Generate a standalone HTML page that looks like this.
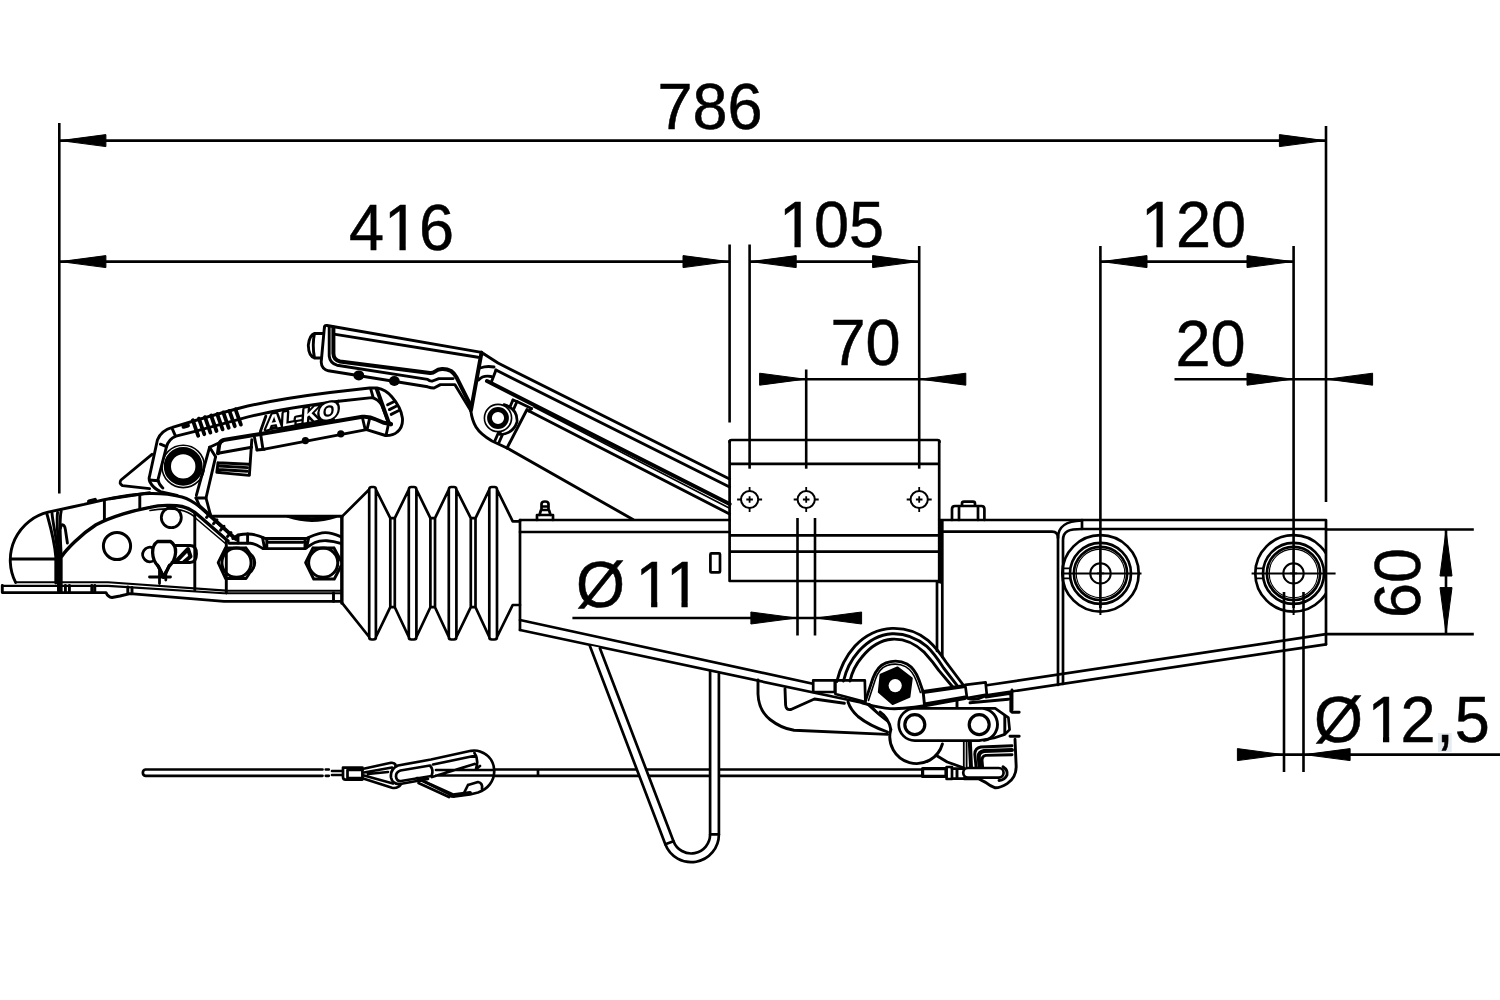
<!DOCTYPE html>
<html><head><meta charset="utf-8"><title>Drawing</title>
<style>
html,body{margin:0;padding:0;background:#fff;}
body{width:1500px;height:1000px;overflow:hidden;}
svg{display:block;}
text{font-family:"Liberation Sans",sans-serif;font-size:63px;fill:#000;stroke:#000;stroke-width:0.5px;}
.l{fill:none;stroke:#000;stroke-width:2.7;stroke-linecap:round;stroke-linejoin:round;}
.t{fill:none;stroke:#000;stroke-width:1.6;stroke-linecap:round;stroke-linejoin:round;}
.h{fill:none;stroke:#000;stroke-width:4;stroke-linecap:round;stroke-linejoin:round;}
.w{fill:#fff;stroke:#000;stroke-width:2.7;stroke-linecap:round;stroke-linejoin:round;}
.d{fill:none;stroke:#000;stroke-width:2.6;stroke-linecap:butt;}
#handle1 .l,#handle2 .l,#coupling .l,#brake .l{stroke-width:2.9;}
</style></head><body>
<svg width="1500" height="1000" viewBox="0 0 1500 1000">
<rect width="1500" height="1000" fill="#fff"/>
<!-- 10_dims.py -->
<path class="d" d="M59.3 123V493.5"/>
<path class="d" d="M1326 126V502"/>
<path class="d" d="M729.6 244.5V422.5"/>
<path class="d" d="M749.6 244.5V468.7"/>
<path class="d" d="M919.2 246V468.7"/>
<path class="d" d="M806.2 369.5V468.7"/>
<path class="d" d="M1100.4 246V608"/>
<path class="d" d="M1293.6 246V608"/>
<path class="d" d="M59.3 140.6H1326"/>
<path d="M60.5 140.6 L105.9 146.6 L105.9 134.6 Z" fill="#000" stroke="#000" stroke-width="1" stroke-linejoin="round"/>
<path d="M1324.8 140.6 L1279.4 134.6 L1279.4 146.6 Z" fill="#000" stroke="#000" stroke-width="1" stroke-linejoin="round"/>
<path class="d" d="M59.3 261.6H729.6"/>
<path d="M60.5 261.6 L105.9 267.6 L105.9 255.6 Z" fill="#000" stroke="#000" stroke-width="1" stroke-linejoin="round"/>
<path d="M728.4 261.6 L683.0 255.6 L683.0 267.6 Z" fill="#000" stroke="#000" stroke-width="1" stroke-linejoin="round"/>
<path class="d" d="M749.6 261.6H919.2"/>
<path d="M750.8 261.6 L796.2 267.6 L796.2 255.6 Z" fill="#000" stroke="#000" stroke-width="1" stroke-linejoin="round"/>
<path d="M918.0 261.6 L872.6 255.6 L872.6 267.6 Z" fill="#000" stroke="#000" stroke-width="1" stroke-linejoin="round"/>
<path class="d" d="M1100.4 261.6H1293.6"/>
<path d="M1101.6 261.6 L1147.0 267.6 L1147.0 255.6 Z" fill="#000" stroke="#000" stroke-width="1" stroke-linejoin="round"/>
<path d="M1292.4 261.6 L1247.0 255.6 L1247.0 267.6 Z" fill="#000" stroke="#000" stroke-width="1" stroke-linejoin="round"/>
<path class="d" d="M762 379.2H964"/>
<path d="M805.0 379.2 L759.6 373.2 L759.6 385.2 Z" fill="#000" stroke="#000" stroke-width="1" stroke-linejoin="round"/>
<path d="M920.4 379.2 L965.8 385.2 L965.8 373.2 Z" fill="#000" stroke="#000" stroke-width="1" stroke-linejoin="round"/>
<path class="d" d="M1174.5 379.2H1370"/>
<path d="M1292.4 379.2 L1247.0 373.2 L1247.0 385.2 Z" fill="#000" stroke="#000" stroke-width="1" stroke-linejoin="round"/>
<path d="M1327.2 379.2 L1372.6 385.2 L1372.6 373.2 Z" fill="#000" stroke="#000" stroke-width="1" stroke-linejoin="round"/>
<path class="d" d="M797.5 518V635.6M815 518V635.6"/>
<path class="d" d="M572.4 618H859"/>
<path d="M796.3 618.0 L750.9 612.0 L750.9 624.0 Z" fill="#000" stroke="#000" stroke-width="1" stroke-linejoin="round"/>
<path d="M816.2 618.0 L861.6 624.0 L861.6 612.0 Z" fill="#000" stroke="#000" stroke-width="1" stroke-linejoin="round"/>
<path class="d" d="M1284 592V772M1303.5 592V772"/>
<path class="d" d="M1238 754.6H1500"/>
<path d="M1282.8 754.6 L1237.4 748.6 L1237.4 760.6 Z" fill="#000" stroke="#000" stroke-width="1" stroke-linejoin="round"/>
<path d="M1304.7 754.6 L1350.1 760.6 L1350.1 748.6 Z" fill="#000" stroke="#000" stroke-width="1" stroke-linejoin="round"/>
<path class="d" d="M1326 529.5H1473.8M1326 634.1H1473.8M1446 529.5V634.1"/>
<path d="M1446.0 530.6 L1440.0 576.0 L1452.0 576.0 Z" fill="#000" stroke="#000" stroke-width="1" stroke-linejoin="round"/>
<path d="M1446.0 633.0 L1452.0 587.6 L1440.0 587.6 Z" fill="#000" stroke="#000" stroke-width="1" stroke-linejoin="round"/>
<rect x="1438" y="733" width="13.7" height="19" fill="#e4ecf2"/>
<text transform="translate(710 129) scale(1 1.02)" text-anchor="middle">786</text>
<text transform="translate(401.5 250.4) scale(1 1.02)" text-anchor="middle">416</text>
<text transform="translate(831.5 247.2) scale(1 1.02)" text-anchor="middle">105</text>
<text transform="translate(1193.5 247.2) scale(1 1.02)" text-anchor="middle">120</text>
<text transform="translate(865.6 365) scale(1 1.02)" text-anchor="middle">70</text>
<text transform="translate(1210.5 366.2) scale(1 1.02)" text-anchor="middle">20</text>
<text transform="translate(576 607) scale(1 1.02)" text-anchor="start">Ø</text>
<text transform="translate(635.6 607) scale(1 1.02)" text-anchor="start">11</text>
<text transform="translate(1314 742) scale(1 1.02)" text-anchor="start" style="letter-spacing:0.9px">Ø<tspan dx="3.6">1</tspan><tspan dx="-3">2,5</tspan></text>
<text transform="translate(1420.4 583) rotate(-90) scale(1 1.02)" text-anchor="middle">60</text>
<rect x="387.17" y="245.00" width="12.30" height="6.6" fill="#fff"/>
<rect x="405.72" y="245.00" width="11.45" height="6.6" fill="#fff"/>
<rect x="782.15" y="241.80" width="12.30" height="6.6" fill="#fff"/>
<rect x="800.70" y="241.80" width="11.45" height="6.6" fill="#fff"/>
<rect x="1144.15" y="241.80" width="12.30" height="6.6" fill="#fff"/>
<rect x="1162.70" y="241.80" width="11.45" height="6.6" fill="#fff"/>
<rect x="638.80" y="601.60" width="12.30" height="6.6" fill="#fff"/>
<rect x="657.35" y="601.60" width="11.45" height="6.6" fill="#fff"/>
<rect x="669.15" y="601.60" width="12.30" height="6.6" fill="#fff"/>
<rect x="687.70" y="601.60" width="11.45" height="6.6" fill="#fff"/>
<rect x="1370.69" y="736.60" width="12.30" height="6.6" fill="#fff"/>
<rect x="1389.24" y="736.60" width="11.45" height="6.6" fill="#fff"/>
<!-- 20_beam.py -->
<defs><clipPath id="cb"><rect x="1200" y="500" width="125.6" height="150"/></clipPath></defs>
<path class="l" d="M520 520V630"/>
<path class="l" d="M520 520H729.6M520 532H729.6"/>
<path class="l" d="M520 620L862 694.5M520 630L862 702.8"/>
<rect class="l" x="710.4" y="553.4" width="9.6" height="19" rx="1"/>
<path class="l" d="M729.6 442Q729.6 440 731.6 440H937.5Q939.5 440 939.5 442"/>
<path class="l" d="M729.6 441V581H939.5M939.2 441V582M937 582V651M729.6 463.8H939.2M729.6 535.4H939.2M729.6 551.6H939.2"/>
<circle class="l" style="stroke-width:2" cx="749.6" cy="499.5" r="8.6"/><path class="d" style="stroke-width:1.8" d="M746.3000000000001 499.5H752.9M749.6 496.2V502.8M737.1 499.5H741.0M758.2 499.5H762.1M749.6 487.0V490.9M749.6 508.1V512.0"/>
<circle class="l" style="stroke-width:2" cx="806.2" cy="499.5" r="8.6"/><path class="d" style="stroke-width:1.8" d="M802.9000000000001 499.5H809.5M806.2 496.2V502.8M793.7 499.5H797.6M814.8000000000001 499.5H818.7M806.2 487.0V490.9M806.2 508.1V512.0"/>
<circle class="l" style="stroke-width:2" cx="919.2" cy="499.5" r="8.6"/><path class="d" style="stroke-width:1.8" d="M915.9000000000001 499.5H922.5M919.2 496.2V502.8M906.7 499.5H910.6M927.8000000000001 499.5H931.7M919.2 487.0V490.9M919.2 508.1V512.0"/>
<path class="l" d="M939.2 520H1326V644.3"/>
<path class="l" d="M942.3 521V657"/>
<path class="l" style="stroke-width:3.4" d="M940.7 521V582"/>
<path class="l" d="M942.3 531.6H1052Q1058 531.6 1058 538V685"/>
<path class="l" d="M1082 520.5C1066 521 1058 526 1058 538"/>
<path class="l" d="M1082 529C1069 529 1063 531 1063 540V684"/>
<path class="l" d="M1082 520V529H1326"/>
<path class="l" d="M1326 634.2L985 685.5M1326 644.3L988 695"/>
<path class="l" d="M952 520V509Q952 506 955 506H981.4Q984.4 506 984.4 509V520M959 506V520M978 506V520M962 506V503.5Q962 501.6 964 501.6H973Q975 501.6 975 503.5V506"/>
<path class="l" d="M537 520V515H553V520M539.5 515L541 510H549L550.5 515M541.5 510V504Q541.5 501.5 545 501.5Q548.5 501.5 548.5 504V510M541.5 506.5H548.5"/>
<g>
<circle class="l" cx="1100.5" cy="573.4" r="38.2"/>
<circle class="l" cx="1100.5" cy="573.4" r="30.5"/>
<circle class="l" cx="1100.5" cy="573.4" r="26.6"/>
<circle class="t" style="stroke-width:1.1" cx="1100.5" cy="573.4" r="24.3"/>
</g>
<circle class="l" style="stroke-width:2" cx="1100.5" cy="573.4" r="10.2"/>
<path class="d" style="stroke-width:1.6" d="M1096.9 573.4H1104.1M1100.5 569.8V577.0"/>
<path class="t" d="M1063.0 568.4H1070.0M1063.0 578.4H1070.0"/>
<g clip-path="url(#cb)">
<circle class="l" cx="1293.5" cy="573.4" r="38.2"/>
<circle class="l" cx="1293.5" cy="573.4" r="30.5"/>
<circle class="l" cx="1293.5" cy="573.4" r="26.6"/>
<circle class="t" style="stroke-width:1.1" cx="1293.5" cy="573.4" r="24.3"/>
</g>
<circle class="l" style="stroke-width:2" cx="1293.5" cy="573.4" r="10.2"/>
<path class="d" style="stroke-width:1.6" d="M1289.9 573.4H1297.1M1293.5 569.8V577.0"/>
<path class="t" d="M1256.0 568.4H1263.0M1256.0 578.4H1263.0"/>
<path class="d" style="stroke-width:2" d="M1063 573.4H1141.5M1251.6 573.4H1335.6M1100.4 600V615M1293.6 600V615"/>
<!-- 30_bellows.py -->
<path class="l" d="M342.2 516.4 L369.2 489.5M369.2 637.0V489.5Q369.2 487 371.7 487H373.4Q375.9 487 375.9 489.5V637.0Q375.9 639.5 373.4 639.5H371.7Q369.2 639.5 369.2 637.0M375.9 489.5L390.3 518.2H394.8L408.8 489.5M375.9 637.0L390.3 607.2H394.8L408.8 637.0M390.3 518.2V607.2M394.8 518.2V607.2M408.8 637.0V489.5Q408.8 487 411.3 487H413.9Q416.4 487 416.4 489.5V637.0Q416.4 639.5 413.9 639.5H411.3Q408.8 639.5 408.8 637.0M416.4 489.5L430.4 518.2H435L448.8 489.5M416.4 637.0L430.4 607.2H435L448.8 637.0M430.4 518.2V607.2M435 518.2V607.2M448.8 637.0V489.5Q448.8 487 451.3 487H453.9Q456.4 487 456.4 489.5V637.0Q456.4 639.5 453.9 639.5H451.3Q448.8 639.5 448.8 637.0M456.4 489.5L470.8 518.2H475.5L489.3 489.5M456.4 637.0L470.8 607.2H475.5L489.3 637.0M470.8 518.2V607.2M475.5 518.2V607.2M489.3 637.0V489.5Q489.3 487 491.8 487H494.5Q497 487 497 489.5V637.0Q497 639.5 494.5 639.5H491.8Q489.3 639.5 489.3 637.0M497 489.5L512.7 521.3H520M497 637.0L512.7 605H520M342.2 603.2L369.2 637.0M342.2 516.4V603.2"/>
<!-- 40_stand_cable.py -->
<path class="l" d="M145.5 769.5H322.5M145.5 775.8H322.5M145.5 769.5A3.2 3.2 0 0 0 145.5 775.8M325.8 769.5H328.8M325.8 775.8H328.8M332 771H345M332 775H345"/>
<path class="l" d="M494 769.5H922M494 775.8H922M538 769.5V775.8"/>
<path class="w" d="M343 767.6H362.4V779.6H345.5Q343 779.6 343 777Z"/>
<path class="l" d="M347.5 770H362.4M347.5 778H362.4M347.5 770V778"/>
<path class="l" d="M362.4 769L391 762.8Q395.5 762.3 396 766.5M362.4 778.3L392 787.8Q398 789 401.5 783.5L404 778"/>
<path class="l" d="M364 772.5L392 767.5M364 775.5L393 783.5M368 774L388 772"/>
<path class="w" d="M398 765.5L431 759.5L471 750.8Q476 750 480 751.5C490 755 494.5 763 494.2 772C494 781 488 789 478 792.5L470 794.5L455 796.5Q451 797 449 794L416.8 778L428 779L400 784Q392.5 784.5 391 777.5Q390 769 398 765.5Z"/>
<path class="l" d="M400.5 770.5L430 765.5Q434 770 431.5 776L401 781Q396.5 781.5 396 776.5Q395.8 772 400.5 770.5Z"/>
<path class="l" d="M433 764.5L476 755.5M432 777L474.5 764M474.5 753Q479 760 476 769M476 769L480 766M436 770H494M436 775.5H493.5"/>
<path class="l" d="M421 780L452 794M418.5 783L449 797"/>
<path class="h" style="stroke-width:4" d="M451 795.5L470 793"/>
<path class="l" d="M468 785L464 793M468 785L478 782Q483 783 482 789"/>
<path fill="#fff" d="M589.6 645.5L665.3 844.3A27.7 27.7 0 0 0 718.9 834.4V673.5H710.1V834.4A18.9 18.9 0 0 1 673.5 841.2L599.6 647.6Z"/>
<path class="l" d="M589.9 646L665.3 844.3A27.7 27.7 0 0 0 718.9 834.4V673.5M710.1 671.5V834.4A18.9 18.9 0 0 1 673.5 841.2L599.9 648.2"/>
<path class="l" d="M665.3 844.3L673.5 841.2M710.1 834.4H718.9"/>
<!-- 50_coupling.svg -->
<g id="coupling">
<!-- base plate -->
<path class="l" d="M2.3 585.4V592.6H106Q108 597 112 597.5L120 596L130 593.6L224 601.4H341.6"/>
<path class="l" style="stroke-width:2.1" d="M2.3 585.9H108L224 593.2H341.6"/>
<path class="l" style="stroke-width:2.1" d="M15.6 582.3H108L226 590.6"/>
<path class="l" style="stroke-width:2.1" d="M226.3 590.8H341.6"/>
<path class="l" d="M65.4 585.4V592.6M69.4 585.4V592.6M91.8 585.4V592.6M94.8 585.4V592.6M127.8 587V593.4M132 587.4V593.8M333.5 593V601.4"/>
<!-- dome -->
<path class="l" d="M15.6 582.4A49.3 49.3 0 0 1 48 512.2C60 509.5 72 507 84 504.4C100 500.5 128 494 150 493.5"/>
<path class="l" d="M11.5 559H56"/>
<!-- lip lines -->
<path class="l" d="M46.8 513.5C50 525 54.5 540 55.8 557V583"/>
<path class="l" d="M52 513C53 525 57 538 57.6 556V583"/>
<path class="l" d="M57.6 512.5C56 522 58.5 540 59.4 560V583"/>
<path class="l" d="M61.2 511.2C59 520 60.2 535 61.2 556V592"/>
<path class="h" d="M59 556V591"/>
<path class="l" d="M60.5 528C61 523.5 64.5 523.5 65.4 529.6L67.4 543"/>
<!-- inner curve of shell (thick) -->
<path class="h" style="stroke-width:3.4" d="M62 556C66 550 80 535 96 524.8C112 516.5 135 510 150 507.3C160 505 175 504.8 182 506.5C190 508.5 194 511.5 198 515L228 541"/>
<path class="t" d="M150 510.5C162 508 176 508.5 184 511C190 513 194 516 196 518.5L226 544"/>
<!-- top shell continuing -->
<path class="l" d="M150 493.5C160 493.3 172 494.5 182 497C190 499.3 195 503 200 507L235 539"/>
<path class="l" d="M104.4 501V519.6M139.8 495V509.6"/>
<path class="h" style="stroke-width:3.6" d="M200 506.5L236 539"/>
<path class="l" d="M206.5 517.5L210 513.5M213.5 523.8L217 519.8M220.5 530.2L224 526.2M227.5 536.5L231 532.5"/>
<path class="h" d="M89 501.5L95 499.8"/>
<!-- circles -->
<circle class="l" style="stroke-width:3" cx="117" cy="546" r="13.6"/>
<circle class="l" style="stroke-width:2.8" cx="171.3" cy="517.6" r="10"/>
<!-- indicator -->
<path class="l" d="M153 548A7.2 7.2 0 1 0 154.5 560"/>
<path class="w" style="stroke-width:3.3" d="M157.5 541.5H170.5Q176 545 175.6 552.5Q175 561 169 566.5L163.8 577L158.5 566.5Q152.8 561 152.6 552.5Q152.5 545 157.5 541.5Z"/>
<path class="l" d="M157.5 565L163.5 577.5L169.5 565"/>
<path class="h" style="stroke-width:2.8" d="M149.5 577H170.5M159.5 571V583.5M165.8 572V580"/>
<path class="l" d="M174.5 545.5H190Q196.5 545.5 196.5 554Q196.5 562.5 190 562.5H172"/>
<path class="h" d="M176 561.5L188 549L190.5 556.5L184 562"/>
<!-- vertical lines -->
<path class="l" d="M194.8 513V590M226.3 540V593"/>
<!-- tube -->
<path class="l" d="M211 516.2H341.6V601.4"/>
<path class="l" d="M288 516.5Q311.5 524.5 335.7 516.5M293 516.5Q311.5 521 330.5 516.5"/>
<!-- wavy strap -->
<path class="l" d="M232.9 538.5C238 534.5 241 534 248 534C256 534 260 536 265.2 538.5H306.3C312 536 318 532.6 325.4 532.6C332 532.6 337 535 341.6 537"/>
<path class="l" d="M229 543.2H250.5C256 543.6 259 546.5 263 548.6H304.9C308 547 311 544.4 315 542.5C319 540.7 323 540.5 327 540.7C333 541 338 542.5 341.6 543.6"/>
<path class="l" d="M268 542.2H303"/>
<path class="l" d="M238 535V543M247.6 534V543M262.5 537.5L264.5 548M266.8 538.5V548.6M305 538.5V548.6M308.8 537.5L306.5 548"/>
<!-- bolts -->
<circle class="l" style="stroke-width:3" cx="236.5" cy="562.7" r="14.6"/>
<path class="l" d="M225.5 548H246M225.5 578.5H246M225.5 548L218.2 562.7L225.5 578.5M246 548L249 552M246 578.5L249 574"/>
<path class="l" d="M249.5 553A13 13 0 0 1 249.5 573M252 555.5A11 11 0 0 1 252 570"/>
<circle class="l" style="stroke-width:3" cx="323.2" cy="562.7" r="14.6"/>
<path class="l" d="M313 548H334M313.7 579H334.3M313 548L305.6 562.7L313.7 579M334 548L341 561M334.3 579L341 566"/>
<!-- neck to bellows -->
<path class="l" d="M341.6 516.4H342.2M341.6 603.2H342.2"/>
</g>

<!-- 60_handle1.svg -->
<g id="handle1">
<defs><filter id="gs" x="-10%" y="-30%" width="120%" height="160%"><feColorMatrix type="saturate" values="0"/></filter></defs>
<!-- triangle wedge -->
<path class="l" d="M152 454.4L121 480Q118.5 483.5 122.5 485.6L149.6 488.6"/>
<!-- lever left arm outer + handle top -->
<path class="l" d="M110 498.8L149.6 492.8"/>
<path class="l" d="M177.2 495.5L160.4 491.6Q153 488 150 482Q148.5 479 149.6 476L157.4 440Q161 430.5 172.4 427.4C195 420.5 215 414.5 240 408C262 402.5 290 397.5 330 392.5L369.6 388H377C383 389 388 392 392 397C398 404 401.5 411 402.4 418C403 424 401 429 397.2 432C394 434.8 390 435.6 385.5 435.5L366.5 429.6"/>
<!-- inner arm line -->
<path class="l" d="M162.8 488Q158.5 484 158 479.6L166.4 447.2Q168.5 439 176 436.2L194 431.6L240.8 418.8C262 413 290 407.6 338.4 401.2"/>
<path class="l" d="M172.4 429.2L175.4 435.8M160.4 444.2L166.4 446.6M149.6 480L158 480.8"/>
<path class="h" d="M183.5 426.8L188 425.6"/>
<!-- spring coils -->
<path class="h" style="stroke-width:3.8" d="M192.8 420.2L198.2 435.8M198.9 418.6L204.3 434.2M205 417.1L210.4 432.6M211.1 415.5L216.5 431M217.2 414L222.6 429.4M223.3 412.4L228.7 427.8M229.4 410.9L234.8 426.2M235.5 409.3L240.9 424.6"/>
<!-- pivot ring -->
<circle cx="183.2" cy="466.4" r="15.8" fill="#fff" stroke="#000" stroke-width="7.2"/>
<circle class="t" cx="183.2" cy="466.4" r="21.2"/>
<!-- right arm of lever -->
<path class="l" d="M209.6 447.2L196.4 495.2M215.6 456.8L206 498H196"/>
<path class="l" d="M209.6 447.2L222 441.5M209.6 447.2L215.6 456.8"/>
<path class="l" d="M196 498L200 507M206 498L210.5 515"/>
<!-- handle underside -->
<path class="h" d="M218 453.2L219.2 444.8Q220 441 223.5 440L254 435L262 433.8L362.4 416.8C368 416.3 372 417.5 376 419.5L384 422.8L391 424.2"/>
<path class="l" d="M218 453.2L251.6 447.2"/>
<path class="l" d="M251.8 439.6L249.4 474.6"/>
<path class="l" d="M218 462.8L248.6 464.2M216.8 472.4L249.2 475.4M218 462.8L216.8 472.4M219 466L247.5 467.6M218.5 469.5L247.3 471.2"/>
<path class="l" d="M260.4 432.4L262.8 448.2M254.5 437.5L257 449.8M262.8 448.8L264.5 449.2"/>
<!-- bottom line of handle -->
<path class="l" d="M257 450L264.5 449.2L366.5 429.6"/>
<circle cx="305.4" cy="440.6" r="3.6" fill="#000"/><circle cx="340.8" cy="433.8" r="3.6" fill="#000"/>
<path class="l" d="M362.4 417.5L365.2 429.5M369.6 418.5L367 429.6"/>
<!-- tip details -->
<path class="l" d="M370.8 389.2L373.2 397.6"/>
<path class="h" d="M376.8 389.2L388.8 422.8L391 424.2"/>
<path class="l" d="M338.4 401.2L372 397.6Q378 399 381.6 404.8L387.8 420.6"/>
<path class="l" d="M387.6 404.8L394.8 401.2M389.4 409.6L396.6 406M391.2 414.4L398.4 410.8"/>
<path class="l" d="M386 435.5L388.5 424"/>
<!-- logo plate -->
<path class="l" d="M260.4 431.4L265.8 416.2"/>
<path class="l" d="M266.5 429.3L333.6 419.6"/>
<g filter="url(#gs)"><text transform="translate(265.5 429.6) rotate(-10.5) skewX(-14)" style="font-size:19.5px;font-weight:bold;fill:#fff;stroke:#000;stroke-width:4.2;stroke-linejoin:round;paint-order:stroke fill" textLength="74" lengthAdjust="spacingAndGlyphs">AL-K<tspan style="font-size:23px" dy="1.2">O</tspan></text></g>
</g>

<!-- 70_handle2.svg -->
<g id="handle2">
<!-- arm lines to bracket -->
<path class="l" d="M484 354L498 363L729.6 479"/>
<path class="l" d="M496 370L729.6 487"/>
<path class="h" style="stroke-width:4" d="M487 381L729.6 504"/>
<path class="t" d="M534 407L729.6 508.2"/>
<path class="l" d="M529 411L729.6 514"/>
<path class="l" d="M508 448.5L633 519.5"/>
<!-- boss outline -->
<path class="l" d="M470.8 410.8C471.5 416 473 422 476 427C480 433.5 486 437.5 492 441L508 448.5"/>
<!-- clevis cross lines -->
<path class="l" d="M513 400L495 440.5M517 401.5L499 442.5M527 409.5L507 448M531.5 408.5L529 411"/>
<path class="l" d="M513 400L517 401.5M517 401.5L531.5 408.5"/>
<!-- pivot -->
<path class="w" d="M504 404.5Q518 409 517 422Q513 434 500 434.5Z"/>
<circle class="t" cx="498" cy="418" r="13.6" style="fill:#fff"/>
<circle cx="498" cy="418" r="8.5" fill="#fff" stroke="#000" stroke-width="4.8"/>

<!-- handle outer -->
<path class="l" d="M324.4 327.4Q324.4 325 327 325.5L481.5 352.4"/>
<path class="l" d="M324.4 327.4L321.2 362Q321.5 369 328.4 370.8L427.6 386.8Q431 388 434 388L440.4 384.6H454.8L470.8 410.8"/>
<path class="h" d="M481.5 352.6L471 410"/>
<path class="l" d="M482 353.2L484 354"/>
<!-- inner grip face -->
<path class="l" d="M329.2 327V356Q330 363 337 365.2L427.6 379.4Q430 381.6 432.5 381L438.8 378.6H453.2"/>
<path class="h" d="M333.4 327.5V353.5Q333.6 360 340 361.5L430 373Q433 373.2 435 371.5Q438 369.2 442 369Q447 368.8 451 371Q454.5 373.5 456.4 377.2L470.8 406"/>
<path class="l" d="M335.4 334.4L478 357.2"/>
<ellipse cx="358.8" cy="375.4" rx="5.4" ry="5" fill="#000"/><ellipse cx="394.3" cy="381" rx="5.4" ry="5" fill="#000"/>
<!-- button -->
<path class="l" d="M322.5 333.5H314.5Q309.5 335 308.3 345.2Q308.6 356 314.5 358H321.5M314.5 333.5Q312 345 314.5 358"/>
<!-- connector cap details -->
<path class="l" d="M480 368Q487 365.5 494 367M478.5 380Q483 375 491 376.5M496 370L491 383"/>
</g>

<!-- 80_brake.svg -->
<g id="brake">
<!-- continuation of lower slope line curving into link region -->
<path class="l" d="M862 702.8C872 705.5 880 708 890 708.6C905 709.3 925 706 940 703L965 698.5"/>
<!-- hook lower-left -->
<path class="l" d="M758 680V694C758.5 706 763 714 770 719.5C777 725 785 729 794 730.3L887.6 734.4"/>
<path class="l" d="M785 688.8L785.6 705Q786 710.5 791 709.5L814.4 699L844.4 703.2"/>
<path class="l" d="M848 702C850 708 853 712 858 716.5C866 723 876 728 887.6 732"/>
<path d="M866 703.4C872 709 879 716 888 722C881 716 875 709.5 869.5 703.8Z" fill="#000" stroke="#000" stroke-width="1.6" stroke-linejoin="round"/>
<!-- small rects on beam underside -->
<path class="w" d="M813.2 680.4H834.8V692H813.2Z"/>
<path class="w" d="M835.4 680.4H864.8L865.4 702L835.4 694Z"/>
<!-- arch (cable guide) -->
<path class="l" d="M836.8 681.6C840 668 846 656 855 646C866 634.5 879 629 892 628.4C906 628 918 632 928 640.4C936 647.5 941 654.5 946 662L964 686"/>
<path class="l" d="M843.5 681C846 670 851 660 858.5 651.5C868 641 880 634.5 892 633.8C905 633.3 916 637.5 926.8 646.4C933 652 938.5 660 943.6 668L958 686.6"/>
<path class="l" d="M850 681C852 672 856 664 862 657C870 647 881 640 892 639.2C904 638.5 914 642.5 924.4 652.4C930 658.5 934.5 664 938.8 670.4L953 687.2"/>
<!-- inner arch around nut -->
<path class="l" d="M865.6 700.4L873 678C876 670 880 665 886 662.8C893 660.5 901 660.8 907 664C913 667.5 916.5 673 919 680L923.2 692L924.4 704"/>
<path class="t" d="M868.5 700.4L875.5 679C878 672 882 667.5 887 665.6C893 663.6 900 663.8 905.5 666.6C911 669.8 914 674.5 916.4 681L920.4 692.5"/>
<!-- nut -->
<path d="M880.6 674.6L897.4 667.4L911.8 678.2L909.4 696.8L892.6 704L878.8 692Z" fill="#000" stroke="#000" stroke-width="2" stroke-linejoin="round"/>
<circle cx="895.2" cy="685.6" r="6.6" fill="#fff"/>
<!-- strap bar -->
<path class="h" d="M923.2 692L965.2 686"/>
<path class="l" d="M924.4 704L965.2 697"/>
<!-- clamp -->
<path class="w" d="M965.2 684.8L985.6 682.4L986.8 694.6L967 698Z"/>
<path class="l" d="M968 698.5Q975 701 984 696.5"/>
<!-- lobe below link -->
<path class="l" d="M880 712C886 716 889.5 722 890.8 729.6"/>
<path class="l" d="M890.8 729.6A26.5 26.5 0 0 0 942.4 744"/>
<path class="l" d="M936.4 755.4L947.2 762L964 768"/>
<!-- right housing -->
<path class="l" d="M970 702.8L1008.4 699.2M1010.8 693.2V711.2M1012 690V709.8M986 697L1010.8 693.2"/>
<path class="l" d="M1012 712.2H1019.2M1010 736.2H1019.2"/>
<path class="l" d="M1015 739.2L1016.2 766.8Q1016 778 1007.2 783.6Q1000 788 995.2 787.8Q990 786 985.6 782.4L978.4 778.8H964"/>
<path class="l" d="M948 709L956 720M957 700V709"/>
<!-- vertical bars -->
<path class="t" style="stroke-width:1.8" d="M963.8 740.4V768M966.6 740.4V768"/>
<path class="h" d="M969.8 740.4L971 768"/>
<!-- J hook -->
<path class="l" d="M1012 745.8L980.8 747Q975 748 974.8 754L976 766.8"/>
<path class="h" d="M1012 750L984 751Q978.5 752 978.8 757L979.5 766.8"/>
<path class="l" d="M1012 754.8L985.6 755.4Q982 756 982 760L982.6 766.8"/>
<!-- rod end pill -->
<path class="w" d="M968 768H998.8A4.8 4.8 0 0 1 998.8 777.6H968A4.8 4.8 0 0 1 968 768Z"/>
<path class="l" d="M1003 766.8Q1008 770 1007 775Q1005 780 999 780.5"/>
<!-- cable end fitting -->
<path d="M922.6 768.6H946V776.4H922.6Z" fill="#fff" stroke="#000" stroke-width="3.2" stroke-linejoin="round"/>
<path class="w" d="M946.6 767H952V779H946.6Z"/>
<path class="l" d="M952 768.6H963M952 778.6H966M957 768.6V778.6"/>
<!-- link plate -->
<path class="w" d="M914.8 708.4H995.2L1004.8 715.2L1008.4 717.6L1009.6 729.6L1004.8 734.4L994 738L979 740.6H914.8A16.1 16.1 0 0 1 914.8 708.4Z"/>
<path class="l" d="M984.4 708.6A16.2 16.2 0 0 1 984.4 740.4"/>
<path class="l" d="M1004.8 715.8V733.8"/>
<circle class="l" style="stroke-width:3.2" cx="914.8" cy="724.6" r="10"/>
<circle class="l" style="stroke-width:3.2" cx="979.2" cy="724.6" r="10"/>
</g>

</svg>
</body></html>
